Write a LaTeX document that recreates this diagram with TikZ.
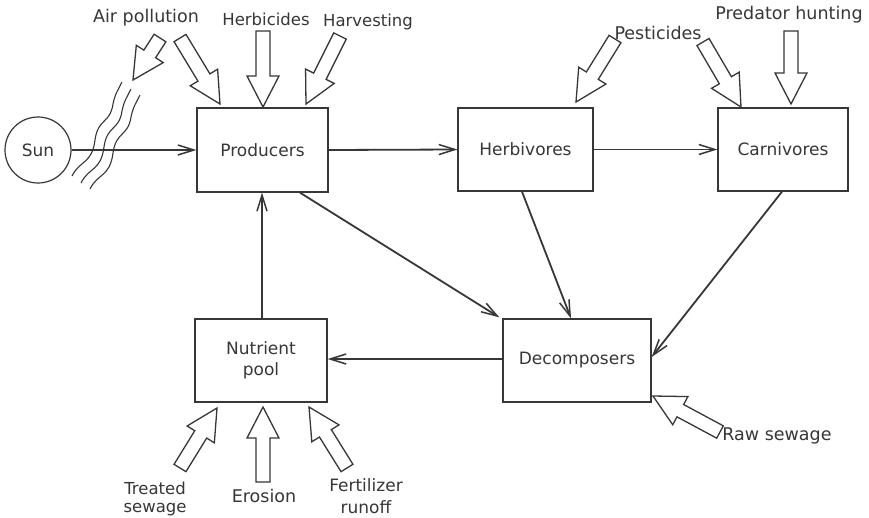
\documentclass[tikz,border=0pt]{standalone}
\usepackage{fontspec}
\setmainfont{DejaVu Sans}
\usetikzlibrary{arrows.meta,calc}
\definecolor{ink}{RGB}{55,55,55}
\tikzset{
  box/.style={draw=ink,line width=1.3pt,rectangle,minimum width=#1,minimum height=83pt,inner sep=0pt,text=ink,align=center,font=\fontsize{17}{21}\selectfont},
  box/.default=131pt,
  flow/.style={draw=ink,line width=1.8pt,-{Straight Barb[length=16pt,width=10pt,line width=1.5pt]}},
  blk/.style={draw=ink,line width=1.3pt,fill=white,line join=miter},
  lbl/.style={text=ink,align=center,font=\fontsize{17.5}{18}\selectfont,inner sep=0pt},
  wave/.style={draw=ink,line width=1.1pt}
}
\newcommand\blockarrow[2]{%
  \draw[blk] let \p1=(#2), \p2=(#1), \n1={atan2(\y2-\y1,\x2-\x1)}, \n2={veclen(\x2-\x1,\y2-\y1)} in
  {[shift={(\p1)},rotate=\n1] (0pt,0pt) -- (31pt,16pt) -- (31pt,7pt) -- (\n2,7pt) -- (\n2,-7pt) -- (31pt,-7pt) -- (31pt,-16pt) -- cycle};}
\begin{document}
\begin{tikzpicture}[x=1pt,y=-1pt]
\useasboundingbox[fill=white] (0,0) rectangle (869,517);
% nodes
\node[draw=ink,line width=1.2pt,circle,minimum size=66pt,inner sep=0pt,text=ink,font=\fontsize{17}{20}\selectfont] (sun) at (38,150) {Sun};
\node[box=131pt,minimum height=84pt] (prod) at (262.5,150) {Producers};
\node[box=135pt] (herb) at (525.5,149.5) {Herbivores};
\node[box=130pt] (carn) at (783,149.5) {Carnivores};
\node[box=148pt] (dec) at (577,360.5) {Decomposers};
\node[box=132pt] (nut) at (261,360.5) {Nutrient\\pool};
% wavy lines
\foreach \dx/\dy in {0/0,9/7,18/13}{
  \draw[wave,shift={(\dx,\dy)}] (72,176) .. controls (80,160) and (92,164) .. (95,140)
     .. controls (98,118) and (110,124) .. (113,104) .. controls (115,94) and (118,90) .. (122,82);
}
% flows
\draw[flow] (sun.east) -- (prod.west);
\draw[flow] (prod.east) -- (herb.west);
\draw[flow] (herb.east) -- (carn.west);
\draw[flow] ($(prod.south)+(37.5,0)$) -- ($(dec.north west)+(-3,-1)$);
\draw[flow] ($(herb.south)+(-3.5,0)$) -- ($(dec.north)+(-6,0)$);
\draw[flow] ($(carn.south)+(-1,0)$) -- ($(dec.east)+(0,-3.5)$);
\draw[flow] ($(dec.west)+(0,-1.5)$) -- ($(nut.east)+(0,-1.5)$);
\draw[flow] ($(nut.north)+(1,0)$) -- ($(prod.south)+(-0.5,0)$);
% block arrow endpoints
\coordinate (ap1t) at (160,38); \coordinate (ap1h) at (133,80);
\coordinate (ap2t) at (180,38); \coordinate (ap2h) at (220,104);
\coordinate (hbt) at (263,31);  \coordinate (hbh) at (263,107);
\coordinate (hvt) at (340,36);  \coordinate (hvh) at (306,104);
\coordinate (ps1t) at (615,39); \coordinate (ps1h) at (576,102);
\coordinate (ps2t) at (703,42); \coordinate (ps2h) at (741,107);
\coordinate (pht) at (791,31);  \coordinate (phh) at (791,104);
\coordinate (tst) at (180,468); \coordinate (tsh) at (217,408);
\coordinate (ert) at (263,482); \coordinate (erh) at (263,407);
\coordinate (frt) at (347,468); \coordinate (frh) at (309,407);
\coordinate (rst) at (720,432); \coordinate (rsh) at (653,396);
\blockarrow{ap1t}{ap1h}
\blockarrow{ap2t}{ap2h}
\blockarrow{hbt}{hbh}
\blockarrow{hvt}{hvh}
\blockarrow{ps1t}{ps1h}
\blockarrow{ps2t}{ps2h}
\blockarrow{pht}{phh}
\blockarrow{tst}{tsh}
\blockarrow{ert}{erh}
\blockarrow{frt}{frh}
\blockarrow{rst}{rsh}
% labels
\node[lbl] (lap) at (146,18) {Air pollution};
\node[lbl,font=\fontsize{16.5}{18}\selectfont] (lhb) at (266,19) {Herbicides};
\node[lbl,font=\fontsize{16.5}{18}\selectfont] (lhv) at (368,22) {Harvesting};
\node[lbl] (lps) at (658,33) {Pesticides};
\node[lbl] (lph) at (789,15) {Predator hunting};
\node[lbl,font=\fontsize{16.5}{18}\selectfont] (lts) at (155,499) {Treated\\sewage};
\node[lbl] (ler) at (264,496) {Erosion};
\node[lbl,font=\fontsize{17}{22}\selectfont] (lfr) at (366,496) {Fertilizer\\runoff};
\node[lbl] (lrs) at (777,436) {Raw sewage};
\end{tikzpicture}
\end{document}
